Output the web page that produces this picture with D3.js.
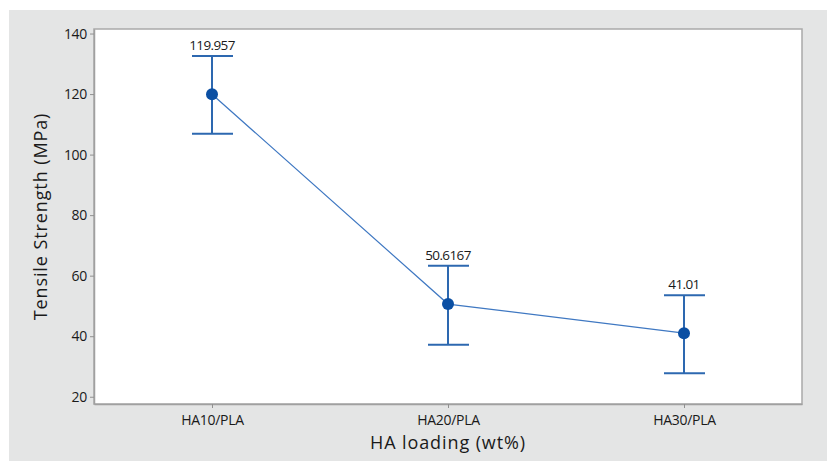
<!DOCTYPE html>
<html>
<head>
<meta charset="utf-8">
<script src="https://cdn.jsdelivr.net/npm/d3@7"></script>
<style>
  body { margin: 0; background: #fff; }
  svg text { font-family: "Open Sans", "DejaVu Sans", sans-serif; }
</style>
</head>
<body>
<div id="chart"></div>
<script>
const width = 827;
const height = 462;

// values
const groups = ["HA10/PLA", "HA20/PLA", "HA30/PLA"];
const means = [119.957, 50.6167, 41.01];
const upper = [132.6, 63.3, 53.5];
const lower = [106.9, 37.2, 27.8];
const meanLabels = ["119.957", "50.6167", "41.01"];
const yTicks = [20, 40, 60, 80, 100, 120, 140];

const margin = { top: 29, right: 25, bottom: 58, left: 94 };

const svg = d3.select("#chart").append("svg")
    .attr("width", width).attr("height", height);

// gray panel behind everything
svg.append("rect")
    .attr("x", 9).attr("y", 10)
    .attr("width", width - 9).attr("height", height - 11)
    .attr("fill", "#e4e5e5");

const x = d3.scalePoint().domain(groups)
    .range([margin.left, width - margin.right]).padding(0.5);
const y = d3.scaleLinear().domain([17.6, 141.5])
    .range([height - margin.bottom, margin.top]);

// white data region
svg.append("rect")
    .attr("x", margin.left).attr("y", margin.top)
    .attr("width", width - margin.left - margin.right)
    .attr("height", height - margin.top - margin.bottom)
    .attr("fill", "#fff")
    .attr("stroke", "#a9a9a9").attr("stroke-width", 1.5);

const yAxis = svg.append("g")
    .attr("transform", `translate(${margin.left},0)`)
    .call(d3.axisLeft(y).tickValues(yTicks).tickSize(4).tickSizeOuter(0).tickPadding(3));

const xAxis = svg.append("g")
    .attr("transform", `translate(0,${height - margin.bottom})`)
    .call(d3.axisBottom(x).tickSize(4).tickSizeOuter(0).tickPadding(7));

[yAxis, xAxis].forEach(a => {
  a.select(".domain").attr("stroke", "#a0a0a0").attr("stroke-width", 1.5);
  a.selectAll(".tick line").attr("stroke", "#909090");
  a.selectAll(".tick text").attr("fill", "#1a1a1a").attr("font-size", 14)
      .attr("letter-spacing", "-0.3px");
});

// connecting line of means
const line = d3.line().x((d, i) => x(groups[i])).y(d => y(d));
svg.append("path")
    .datum(means)
    .attr("d", line)
    .attr("fill", "none")
    .attr("stroke", "#3f78c2").attr("stroke-width", 1.2);

// error bars
const bars = svg.append("g").selectAll("g")
    .data(groups).enter().append("g")
    .attr("stroke", "#2d68b0").attr("stroke-width", 2);

bars.append("line")
    .attr("x1", d => x(d)).attr("x2", d => x(d))
    .attr("y1", (d, i) => y(upper[i])).attr("y2", (d, i) => y(lower[i]));
bars.append("line")
    .attr("x1", d => x(d) - 20).attr("x2", d => x(d) + 21)
    .attr("y1", (d, i) => y(upper[i])).attr("y2", (d, i) => y(upper[i]));
bars.append("line")
    .attr("x1", d => x(d) - 20).attr("x2", d => x(d) + 21)
    .attr("y1", (d, i) => y(lower[i])).attr("y2", (d, i) => y(lower[i]));

// mean markers
svg.append("g").selectAll("circle")
    .data(means).enter().append("circle")
    .attr("cx", (d, i) => x(groups[i]))
    .attr("cy", d => y(d))
    .attr("r", 6)
    .attr("fill", "#0b4fa3");

// value labels above the caps
svg.append("g").selectAll("text")
    .data(meanLabels).enter().append("text")
    .attr("x", (d, i) => x(groups[i]))
    .attr("y", (d, i) => y(upper[i]) - 6)
    .attr("text-anchor", "middle")
    .attr("font-size", 13.5)
    .attr("letter-spacing", "-0.6px")
    .attr("fill", "#1a1a1a")
    .text(d => d);

// axis titles
svg.append("text")
    .attr("x", (margin.left + width - margin.right) / 2)
    .attr("y", 449)
    .attr("text-anchor", "middle")
    .attr("font-size", 18)
    .attr("letter-spacing", "0.9px")
    .attr("fill", "#1a1a1a")
    .text("HA loading (wt%)");

svg.append("text")
    .attr("transform", `translate(47,${(margin.top + height - margin.bottom) / 2}) rotate(-90)`)
    .attr("text-anchor", "middle")
    .attr("font-size", 18)
    .attr("letter-spacing", "0.9px")
    .attr("fill", "#1a1a1a")
    .text("Tensile Strength (MPa)");
</script>
</body>
</html>
